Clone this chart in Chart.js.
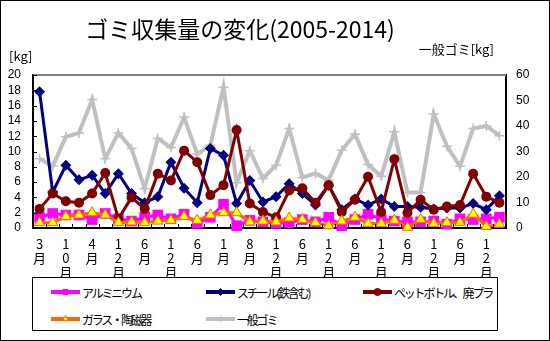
<!DOCTYPE html>
<html>
<head>
<meta charset="utf-8">
<script src="https://cdn.jsdelivr.net/npm/chart.js@4.4.0/dist/chart.umd.min.js"></script>
<style>
  html, body { margin:0; padding:0; background:#fff; }
  #wrap { position:relative; width:550px; height:341px; }
  #chart { position:absolute; left:0; top:0; }
  #legend { position:absolute; left:32px; top:277px; width:466px; height:54px;
            border:1px solid #000; box-sizing:border-box; background:#fff; }
  .item { position:absolute; display:flex; align-items:center; height:14px;
          font:12px "Noto Sans CJK JP"; letter-spacing:-2.2px; color:#000; white-space:nowrap; }
  .item canvas { margin-right:2px; }
</style>
</head>
<body>
<div id="wrap">
  <canvas id="chart" width="550" height="341"></canvas>
  <div id="legend"></div>
</div>
<script>
/* ---------- data ---------- */
const tickLabels = ["3月","10月","4月","12月","6月","12月","6月","1月","8月",
                    "12月","6月","12月","6月","12月","6月","12月","6月","12月"];
// one label every second collection
const categories = [];
tickLabels.forEach(t => { categories.push(t); categories.push(""); });

const aluminium = [1.4,1.9,1.7,1.7,1.1,1.9,1.2,0.9,1.4,1.7,1.2,1.8,0.6,1.4,3.1,0.3,1.0,0.8,
                   0.6,0.7,1.1,0.8,1.4,0.3,1.1,1.8,1.2,0.9,0.8,0.8,0.9,0.5,1.2,1.1,1.2,1.4];
const steel     = [17.8,4.7,8.2,6.3,6.9,4.5,7.1,4.5,3.3,4.1,8.6,5.2,3.3,10.4,9.5,3.2,6.2,3.4,
                   4.1,5.8,4.5,3.0,5.6,2.4,3.8,3.0,3.8,2.8,2.8,2.7,2.5,2.6,2.6,3.2,2.4,4.2];
const petPlastic= [2.5,4.5,3.5,3.3,4.5,7.2,1.2,4.0,2.5,7.1,6.2,10.1,8.6,4.3,5.6,12.8,3.2,2.1,
                   1.4,4.9,5.2,3.3,5.6,2.1,3.7,6.7,2.1,9.0,2.0,3.7,2.4,2.8,3.0,7.1,4.1,3.3];
const glass     = [0.7,0.7,1.5,1.7,2.0,1.7,0.7,0.8,0.7,0.9,1.0,1.5,1.0,1.7,2.0,2.0,0.8,0.9,
                   0.8,1.3,1.1,0.7,0.3,0.9,1.4,0.6,0.6,1.0,0.1,1.1,0.6,0.7,0.7,1.8,0.2,0.5];
const general   = [27.2,24.2,35.8,37.3,50.4,27.2,37.3,31.2,15.5,35.1,31.6,43.4,29.0,32.5,55.2,17.7,30.3,19.4,
                   24.6,39.0,19.8,21.4,18.7,30.5,36.8,24.9,20.3,37.7,13.9,13.9,44.7,32.1,24.2,39.0,40.0,36.2];

const leftTicks  = {min:0, max:20, step:2};
const rightTicks = {min:0, max:60, step:10};

/* ---------- decorations ---------- */
const JP = '"Noto Sans CJK JP", sans-serif';
const deco = {
  id:"deco",
  beforeDraw(c){
    const g=c.ctx; g.save(); g.fillStyle="#fff"; g.fillRect(0,0,c.width,c.height); g.restore();
  },
  afterDraw(c){
    const g=c.ctx, a=c.chartArea, y=c.scales.y;
    g.save();
    // title + unit labels
    g.fillStyle="#000"; g.textBaseline="middle";
    g.font=`23px ${JP}`; g.textAlign="center";
    g.fillText("ゴミ収集量の変化(2005-2014)",240,29);
    g.font=`13px ${JP}`; g.textAlign="left";
    g.fillText("[kg]",9,56);
    g.textAlign="right";
    g.fillText("一般ゴミ[kg]",494,49);
    // top frame line
    g.strokeStyle="#808080"; g.lineWidth=2;
    g.beginPath(); g.moveTo(a.left,a.top); g.lineTo(a.right,a.top); g.stroke();
    // inner tick marks
    g.strokeStyle="#000"; g.lineWidth=1;
    g.beginPath();
    for(let v=leftTicks.min; v<=leftTicks.max; v+=leftTicks.step){
      const py=Math.round(y.getPixelForValue(v))+0.5;
      g.moveTo(a.left,py); g.lineTo(a.left+4,py);
    }
    const n=categories.length, w=(a.right-a.left)/n;
    for(let i=0;i<=n;i++){
      const px=Math.round(a.left+i*w)+0.5;
      g.moveTo(px,a.bottom); g.lineTo(px,a.bottom-4);
    }
    g.stroke();
    // outer border
    g.strokeRect(0.5,0.5,c.width-1,c.height-1);
    g.restore();
  }
};

const tickFont = {family:'"Liberation Sans", Arial, sans-serif', size:12};

const chart = new Chart(document.getElementById("chart"),{
  type:"line",
  data:{
    labels:categories,
    datasets:[
      {label:"アルミニウム", data:aluminium, yAxisID:"y", order:4,
       borderColor:"#FF00FF", backgroundColor:"#FF00FF", borderWidth:3,
       pointStyle:"rect", pointRadius:7.5, pointBorderWidth:0, pointBackgroundColor:"#FF00FF"},
      {label:"スチール(鉄含む)", data:steel, yAxisID:"y", order:3,
       borderColor:"#000080", backgroundColor:"#000080", borderWidth:3,
       pointStyle:"rectRot", pointRadius:5.5, pointBorderWidth:0, pointBackgroundColor:"#000080"},
      {label:"ペットボトル、廃プラ", data:petPlastic, yAxisID:"y", order:2,
       borderColor:"#800000", backgroundColor:"#800000", borderWidth:3,
       pointStyle:"circle", pointRadius:5, pointBorderWidth:0, pointBackgroundColor:"#800000"},
      {label:"ガラス・陶磁器", data:glass, yAxisID:"y", order:1,
       borderColor:"#FF6600", backgroundColor:"#FFFF00", borderWidth:3,
       pointStyle:"triangle", pointRadius:6, pointBorderWidth:1, pointBorderColor:"#FF6600",
       pointBackgroundColor:"#FFFF00"},
      {label:"一般ゴミ", data:general, yAxisID:"y2", order:5,
       borderColor:"#C0C0C0", backgroundColor:"#C0C0C0", borderWidth:4,
       pointStyle:"cross", pointRadius:5, pointBorderWidth:1.5, pointBorderColor:"#C0C0C0"}
    ].map(d => Object.assign(d,{tension:0, fill:false, clip:8}))
  },
  options:{
    responsive:false, animation:false,
    layout:{padding:{top:75}},
    plugins:{legend:{display:false}, tooltip:{enabled:false}},
    scales:{
      x:{
        offset:true,
        grid:{display:false, drawTicks:false},
        border:{display:true, color:"#000", width:2},
        ticks:{
          autoSkip:false, maxRotation:0, minRotation:0, padding:9, color:"#000",
          font:{family:JP, size:13, lineHeight:1.08},
          callback(v){ const l=this.getLabelForValue(v); return l ? l.split("") : ""; }
        },
        afterFit:s=>{ s.height=113; }
      },
      y:{
        position:"left", min:leftTicks.min, max:leftTicks.max,
        grid:{display:false, drawTicks:false},
        border:{display:true, color:"#000", width:2},
        ticks:{stepSize:leftTicks.step, autoSkip:false, padding:12, color:"#000", font:tickFont},
        afterFit:s=>{ s.width=33; }
      },
      y2:{
        position:"right", min:rightTicks.min, max:rightTicks.max,
        grid:{display:false, drawTicks:false},
        border:{display:true, color:"#000", width:2},
        ticks:{stepSize:rightTicks.step, autoSkip:false, padding:10, color:"#000", font:tickFont},
        afterFit:s=>{ s.width=44; }
      }
    }
  },
  plugins:[deco]
});

/* ---------- legend ---------- */
const legendPos = [[18,7],[173,7],[330,7],[18,34],[173,34]];
const legendEl = document.getElementById("legend");
chart.data.datasets.forEach((ds,i)=>{
  const it=document.createElement("div");
  it.className="item";
  it.style.left=legendPos[i][0]+"px"; it.style.top=legendPos[i][1]+"px";
  const cv=document.createElement("canvas"); cv.width=29; cv.height=12;
  const g=cv.getContext("2d");
  g.strokeStyle=ds.borderColor; g.lineWidth=4;
  g.beginPath(); g.moveTo(0,6); g.lineTo(29,6); g.stroke();
  g.fillStyle=ds.pointBackgroundColor || ds.borderColor;
  g.strokeStyle=ds.pointBorderColor || ds.borderColor; g.lineWidth=1;
  Chart.helpers.drawPoint(g,{pointStyle:ds.pointStyle, radius:3.5, rotation:0, borderWidth:1},14.5,6);
  const sp=document.createElement("span"); sp.textContent=ds.label;
  it.appendChild(cv); it.appendChild(sp);
  legendEl.appendChild(it);
});
</script>
</body>
</html>
